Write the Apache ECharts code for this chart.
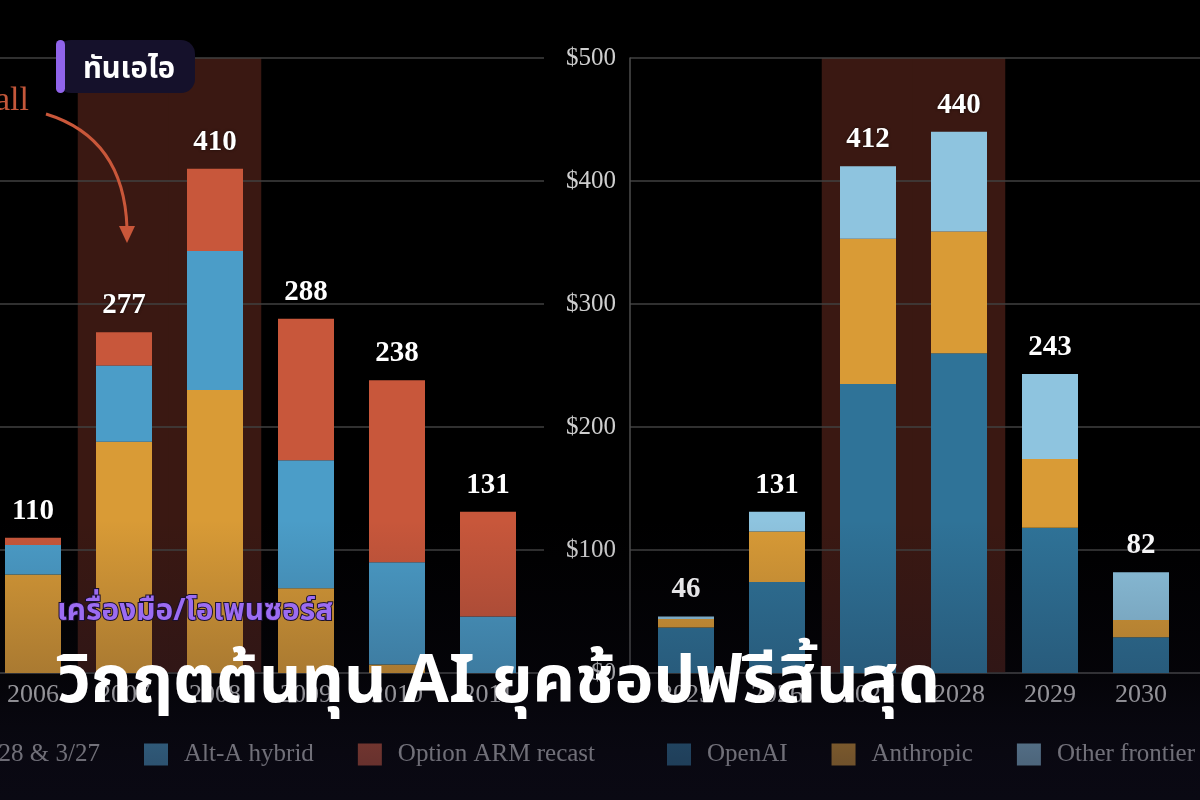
<!DOCTYPE html>
<html><head><meta charset="utf-8">
<script src="https://cdn.jsdelivr.net/npm/echarts@6/dist/echarts.min.js"></script>
<style>html,body{margin:0;padding:0;background:#000;}#c{width:1200px;height:800px;}</style>
</head><body><div id="c"></div>
<script>
// ---------- data ----------
const leftCategories = ['2006', '2007', '2008', '2009', '2010', '2011'];
const leftSubprime   = [80, 188, 230, 69, 7, 0];
const leftAltA       = [24, 62, 113, 104, 83, 46];
const leftOptionArm  = [6, 27, 67, 115, 148, 85];
const leftHighlight  = ['2007', '2008'];
const leftNames      = ['Subprime 2/28 & 3/27', 'Alt-A hybrid', 'Option ARM recast'];

const rightCategories = ['2025', '2026', '2027', '2028', '2029', '2030'];
const rightOpenAI     = [37, 74, 235, 260, 118, 29];
const rightAnthropic  = [7, 41, 118, 99, 56, 14];
const rightOther      = [2, 16, 59, 81, 69, 39];
const rightHighlight  = ['2027', '2028'];
const rightNames      = ['OpenAI', 'Anthropic', 'Other frontier'];

const yMin = 0, yMax = 500, yStep = 100;

const annotationText = 'all';
const badgeText = 'ทันเอไอ';
const subtitleText = 'เครื่องมือ/โอเพนซอร์ส';
const titleText = 'วิกฤตต้นทุน AI ยุคช้อปฟรีสิ้นสุด';

// ---------- style ----------
const SERIF = '"Liberation Serif", "DejaVu Serif", serif';
const THAI = '"Noto Sans Thai", "Noto Sans Thai UI", "Loma", "Garuda", "Noto Sans", "DejaVu Sans", sans-serif';
const C_GOLD = '#D99B36', C_BLUE = '#4B9DC8', C_RED = '#C8573B';
const C_OPENAI = '#2F7398', C_ANTH = '#D99B36', C_OTHER = '#8EC4DF';
const C_BAND = '#3A1812';
const LABEL_GREY = '#cfcfcf';

const sumArr = (...arrs) => arrs[0].map((_, i) => arrs.reduce((s, a) => s + a[i], 0));
const leftTotals = sumArr(leftSubprime, leftAltA, leftOptionArm);
const rightTotals = sumArr(rightOpenAI, rightAnthropic, rightOther);
const leftBand = leftCategories.map(c => leftHighlight.includes(c) ? yMax : null);
const rightBand = rightCategories.map(c => rightHighlight.includes(c) ? yMax : null);

const cv = document.createElement('canvas').getContext('2d');
function textW(t, font) { cv.font = font; return cv.measureText(t).width; }
function fitSize(t, weight, family, target) { return 100 * target / textW(t, weight + ' 100px ' + family); }

// layout
const PLOT_TOP = 58, PLOT_H = 615, BANDW = 91;
const LB_LEFT = -12.5, RB_LEFT = 640.5;
const LEG_FONT = 25, LEG_PAD = 11, LEG_GAP = 44, ICON_W = 24, LEG_PADDING = 5;
const firstLegW = ICON_W + 5 + LEG_PAD + textW(leftNames[0], LEG_FONT + 'px "Liberation Serif"');
const leftLegendLeft = 144 - LEG_GAP - firstLegW - LEG_PADDING;

const chart = echarts.init(document.getElementById('c'), null, { renderer: 'canvas' });

const valueAxisBase = { type: 'value', min: yMin, max: yMax, interval: yStep };
const hiddenY = Object.assign({}, valueAxisBase, { show: false, splitLine: { show: false } });

function frameY(showLabels) {
  return Object.assign({}, valueAxisBase, {
    z: 1,
    axisLine: { show: showLabels, lineStyle: { color: '#4d4d4d', width: 1.5 } },
    axisTick: { show: false },
    splitLine: { show: true, lineStyle: { color: '#414141', width: 1.5 } },
    axisLabel: { show: showLabels, formatter: v => '$' + v, color: LABEL_GREY, fontFamily: SERIF, fontSize: 25, margin: 14 }
  });
}
function frameX(grid) {
  return { type: 'value', gridIndex: grid, min: 0, max: 1, axisLabel: { show: false }, axisTick: { show: false },
    splitLine: { show: false }, axisLine: { show: true, onZero: false, lineStyle: { color: '#3f3f3f', width: 1.5 } } };
}
function catX(grid, data, visible) {
  return { type: 'category', gridIndex: grid, data: data, show: visible,
    axisLine: { show: false }, axisTick: { show: false },
    axisLabel: { color: LABEL_GREY, fontFamily: SERIF, fontSize: 26, margin: 9 } };
}
function stackSeries(name, data, color, xi, yi, stack, totals) {
  const s = { name, type: 'bar', stack, data, xAxisIndex: xi, yAxisIndex: yi, barWidth: 56, z: 3,
    itemStyle: { color }, emphasis: { disabled: true }, silent: true };
  if (totals) {
    s.label = { show: true, position: 'top', distance: 12, formatter: p => String(totals[p.dataIndex]),
      color: '#ffffff', fontFamily: SERIF, fontWeight: 'bold', fontSize: 29,
      textShadowColor: 'rgba(0,0,0,0.6)', textShadowBlur: 3 };
  }
  return s;
}
function bandSeries(data, xi, yi) {
  return { name: 'band', type: 'bar', data, xAxisIndex: xi, yAxisIndex: yi, barWidth: BANDW + 1.5, z: 0,
    itemStyle: { color: C_BAND }, emphasis: { disabled: true }, silent: true };
}

const titleSize = fitSize(titleText, 'bold', THAI, 883);
const subSize = fitSize(subtitleText, 'bold', THAI, 276);
const badgeSize = fitSize(badgeText, 'bold', THAI, 92);

const legendCommon = { top: 737, itemWidth: ICON_W, itemHeight: 22, itemGap: LEG_GAP, icon: 'rect', width: 3000,
  padding: LEG_PADDING, selectedMode: false,
  textStyle: { color: LABEL_GREY, fontFamily: SERIF, fontSize: LEG_FONT, padding: [0, 0, 0, LEG_PAD] } };

const option = {
  backgroundColor: '#000000',
  animation: false,
  grid: [
    { left: -23, top: PLOT_TOP, width: 567, height: PLOT_H, outerBoundsMode: 'none', containLabel: false },
    { left: LB_LEFT, top: PLOT_TOP, width: BANDW * leftCategories.length, height: PLOT_H, outerBoundsMode: 'none', containLabel: false },
    { left: 630, top: PLOT_TOP, width: 590, height: PLOT_H, outerBoundsMode: 'none', containLabel: false },
    { left: RB_LEFT, top: PLOT_TOP, width: BANDW * rightCategories.length, height: PLOT_H, outerBoundsMode: 'none', containLabel: false }
  ],
  xAxis: [
    frameX(0),
    catX(1, leftCategories, true),
    catX(1, leftCategories, false),
    frameX(2),
    catX(3, rightCategories, true),
    catX(3, rightCategories, false)
  ],
  yAxis: [
    Object.assign(frameY(false), { gridIndex: 0 }),
    Object.assign({}, hiddenY, { gridIndex: 1 }),
    Object.assign(frameY(true), { gridIndex: 2 }),
    Object.assign({}, hiddenY, { gridIndex: 3 })
  ],
  legend: [
    Object.assign({}, legendCommon, { data: leftNames, left: leftLegendLeft }),
    Object.assign({}, legendCommon, { data: rightNames, left: 667 - LEG_PADDING })
  ],
  series: [
    bandSeries(leftBand, 2, 1),
    stackSeries(leftNames[0], leftSubprime, C_GOLD, 1, 1, 'L'),
    stackSeries(leftNames[1], leftAltA, C_BLUE, 1, 1, 'L'),
    stackSeries(leftNames[2], leftOptionArm, C_RED, 1, 1, 'L', leftTotals),
    bandSeries(rightBand, 5, 3),
    stackSeries(rightNames[0], rightOpenAI, C_OPENAI, 4, 3, 'R'),
    stackSeries(rightNames[1], rightAnthropic, C_ANTH, 4, 3, 'R'),
    stackSeries(rightNames[2], rightOther, C_OTHER, 4, 3, 'R', rightTotals)
  ],
  graphic: [
    { type: 'rect', z: 50, silent: true, shape: { x: 0, y: 520, width: 1200, height: 280 },
      style: { fill: new echarts.graphic.LinearGradient(0, 520, 0, 800, [
        { offset: 0, color: 'rgba(18,16,34,0)' },
        { offset: 0.55, color: 'rgba(18,16,34,0.24)' },
        { offset: 0.71, color: 'rgba(18,16,34,0.42)' },
        { offset: 0.86, color: 'rgba(18,16,34,0.52)' },
        { offset: 1, color: 'rgba(18,16,34,0.56)' }], true) } },
    { type: 'text', z: 60, silent: true, x: 29, y: 101,
      style: { text: annotationText, align: 'right', verticalAlign: 'middle', fill: '#C4573A', font: '34px "Liberation Serif"' } },
    { type: 'bezierCurve', z: 60, silent: true,
      shape: { x1: 46, y1: 114, cpx1: 124, cpy1: 138, x2: 127, y2: 228 },
      style: { stroke: '#C9573A', lineWidth: 3, fill: null } },
    { type: 'polygon', z: 60, silent: true, shape: { points: [[119, 226], [135, 226], [127, 243]] },
      style: { fill: '#C9573A' } },
    { type: 'rect', z: 70, silent: true, shape: { x: 57, y: 40, width: 138, height: 53, r: 14 }, style: { fill: '#15112B' } },
    { type: 'rect', z: 71, silent: true, shape: { x: 56, y: 40, width: 9, height: 53, r: 4.5 }, style: { fill: '#9064EA' } },
    { type: 'text', z: 72, silent: true, x: 129, y: 72,
      style: { text: badgeText, align: 'center', verticalAlign: 'middle', fill: '#ffffff',
        font: 'bold ' + badgeSize.toFixed(1) + 'px ' + THAI } },
    { type: 'text', z: 72, silent: true, x: 57, y: 614,
      style: { text: subtitleText, align: 'left', verticalAlign: 'middle', fill: '#9C6CF2',
        stroke: '#1a1030', lineWidth: 2,
        font: 'bold ' + subSize.toFixed(1) + 'px ' + THAI } },
    { type: 'text', z: 72, silent: true, x: 57, y: 689,
      style: { text: titleText, align: 'left', verticalAlign: 'middle', fill: '#ffffff',
        font: 'bold ' + titleSize.toFixed(1) + 'px ' + THAI } }
  ]
};
chart.setOption(option);
</script>
</body></html>
